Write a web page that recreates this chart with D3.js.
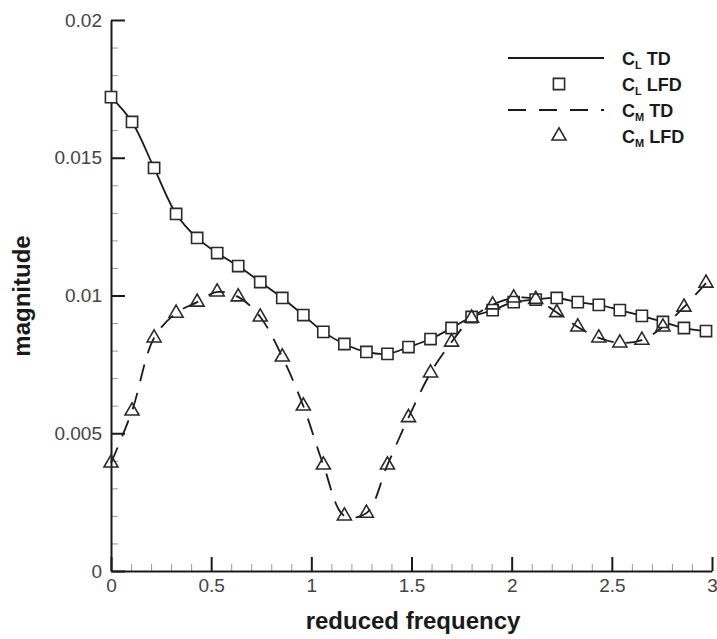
<!DOCTYPE html>
<html>
<head>
<meta charset="utf-8">
<script src="https://cdn.jsdelivr.net/npm/d3@7"></script>
<style>
  body { margin: 0; background: #fff; }
  svg { display: block; font-family: "Liberation Sans", Arial, Helvetica, sans-serif; }
</style>
</head>
<body>
<div id="chart"></div>
<script>
// values
var freq = [0, 0.105, 0.215, 0.325, 0.43, 0.53, 0.635, 0.745, 0.855, 0.96,
            1.06, 1.165, 1.275, 1.38, 1.485, 1.595, 1.7, 1.8, 1.905, 2.01,
            2.12, 2.225, 2.33, 2.435, 2.54, 2.65, 2.755, 2.86, 2.97];

var clTD  = [0.0172, 0.0163, 0.01463, 0.01296, 0.01209, 0.01154, 0.01107, 0.01049, 0.00991, 0.00929,
             0.00868, 0.00824, 0.00795, 0.00788, 0.00813, 0.00842, 0.00882, 0.00922, 0.00947, 0.00976,
             0.00985, 0.00991, 0.00976, 0.00966, 0.00947, 0.00926, 0.00904, 0.00882, 0.00871];
var clLFD = [0.0172, 0.0163, 0.01463, 0.01296, 0.01209, 0.01154, 0.01107, 0.01049, 0.00991, 0.00929,
             0.00868, 0.00824, 0.00795, 0.00788, 0.00813, 0.00842, 0.00882, 0.00922, 0.00947, 0.00976,
             0.00985, 0.00991, 0.00976, 0.00966, 0.00947, 0.00926, 0.00904, 0.00882, 0.00871];
var cmTD  = [0.00392, 0.00581, 0.00846, 0.00936, 0.00976, 0.01013, 0.00995, 0.00922, 0.00777, 0.00599,
             0.00385, 0.0020, 0.0021, 0.00385, 0.00557, 0.00719, 0.00831, 0.00918, 0.00966, 0.00991,
             0.00986, 0.00938, 0.00886, 0.00846, 0.00828, 0.00838, 0.00886, 0.00958, 0.01045];
var cmLFD = [0.00392, 0.00581, 0.00846, 0.00936, 0.00976, 0.01013, 0.00995, 0.00922, 0.00777, 0.00599,
             0.00385, 0.0020, 0.0021, 0.00385, 0.00557, 0.00719, 0.00831, 0.00918, 0.00966, 0.00991,
             0.00986, 0.00938, 0.00886, 0.00846, 0.00828, 0.00838, 0.00886, 0.00958, 0.01045];

var xTicks = [0, 0.5, 1, 1.5, 2, 2.5, 3];
var xTickLabels = ["0", "0.5", "1", "1.5", "2", "2.5", "3"];
var yTicks = [0, 0.005, 0.01, 0.015, 0.02];
var yTickLabels = ["0", "0.005", "0.01", "0.015", "0.02"];

var legendItems = [
  { sub: "L", name: "TD",  kind: "solid" },
  { sub: "L", name: "LFD", kind: "square" },
  { sub: "M", name: "TD",  kind: "dashed" },
  { sub: "M", name: "LFD", kind: "triangle" }
];

var width = 717, height = 639;
var svg = d3.select("#chart").append("svg")
  .attr("width", width)
  .attr("height", height);

var x = d3.scaleLinear().domain([0, 3]).range([111, 712]);
var y = d3.scaleLinear().domain([0, 0.02]).range([571, 20]);

var ink = "#1a1a1a";

// minor ticks first so the axis lines sit on top
var xMinor = d3.range(0, 3.001, 0.1).filter(function(d) { return Math.abs(d * 2 - Math.round(d * 2)) > 1e-6; });
var yMinor = d3.range(0, 0.02001, 0.001).filter(function(d) { return Math.abs(d * 200 - Math.round(d * 200)) > 1e-6; });

svg.append("g")
  .attr("transform", "translate(0," + y(0) + ")")
  .call(d3.axisBottom(x).tickValues(xMinor).tickFormat("").tickSize(-7).tickSizeOuter(0))
  .call(function(g) { g.select(".domain").remove(); g.selectAll("line").attr("stroke", "#999"); });

svg.append("g")
  .attr("transform", "translate(" + x(0) + ",0)")
  .call(d3.axisLeft(y).tickValues(yMinor).tickFormat("").tickSize(-7).tickSizeOuter(0))
  .call(function(g) { g.select(".domain").remove(); g.selectAll("line").attr("stroke", "#999"); });

// major axes, ticks pointing inward
var xAxis = d3.axisBottom(x)
  .tickValues(xTicks)
  .tickFormat(function(d, i) { return xTickLabels[i]; })
  .tickSize(-14).tickSizeOuter(0).tickPadding(8);

var yAxis = d3.axisLeft(y)
  .tickValues(yTicks)
  .tickFormat(function(d, i) { return yTickLabels[i]; })
  .tickSize(-14).tickSizeOuter(0).tickPadding(9);

svg.append("g")
  .attr("transform", "translate(0," + y(0) + ")")
  .call(xAxis)
  .call(function(g) {
    g.select(".domain").attr("stroke", ink).attr("stroke-width", 2);
    g.selectAll(".tick line").attr("stroke", ink).attr("stroke-width", 2);
    g.selectAll("text").attr("font-size", 19).attr("fill", "#444")
      .attr("font-family", "Liberation Sans, Arial, sans-serif");
  });

svg.append("g")
  .attr("transform", "translate(" + x(0) + ",0)")
  .call(yAxis)
  .call(function(g) {
    g.select(".domain").attr("stroke", ink).attr("stroke-width", 2);
    g.selectAll(".tick line").attr("stroke", ink).attr("stroke-width", 2);
    g.selectAll("text").attr("font-size", 19).attr("fill", "#444")
      .attr("font-family", "Liberation Sans, Arial, sans-serif");
  });

// axis titles
svg.append("text")
  .attr("x", 413).attr("y", 629)
  .attr("text-anchor", "middle")
  .attr("font-size", 24).attr("font-weight", "bold").attr("fill", ink)
  .text("reduced frequency");

svg.append("text")
  .attr("transform", "translate(30,296) rotate(-90)")
  .attr("text-anchor", "middle")
  .attr("font-size", 24).attr("font-weight", "bold").attr("fill", ink)
  .text("magnitude");

// curves
var line = d3.line()
  .x(function(d, i) { return x(freq[i]); })
  .y(function(d) { return y(d); })
  .curve(d3.curveCatmullRom.alpha(0.5));

svg.append("path")
  .datum(clTD)
  .attr("d", line)
  .attr("fill", "none")
  .attr("stroke", ink)
  .attr("stroke-width", 1.8);

svg.append("path")
  .datum(cmTD)
  .attr("d", line)
  .attr("fill", "none")
  .attr("stroke", ink)
  .attr("stroke-width", 1.8)
  .attr("stroke-dasharray", "17,12");

// markers
var squareSym = d3.symbol().type(d3.symbolSquare).size(125);
var triSym = d3.symbol().type(d3.symbolTriangle).size(85);

svg.append("g").selectAll("path")
  .data(clLFD)
  .enter()
  .append("path")
    .attr("d", squareSym)
    .attr("transform", function(d, i) { return "translate(" + x(freq[i]) + "," + y(d) + ")"; })
    .attr("fill", "#fff")
    .attr("stroke", "#2a2a2a")
    .attr("stroke-width", 1.6);

svg.append("g").selectAll("path")
  .data(cmLFD)
  .enter()
  .append("path")
    .attr("d", triSym)
    .attr("transform", function(d, i) { return "translate(" + x(freq[i]) + "," + y(d) + ")"; })
    .attr("fill", "none")
    .attr("stroke", "#2a2a2a")
    .attr("stroke-width", 1.6);

// legend
var legend = svg.append("g");
legendItems.forEach(function(item, i) {
  var cy = 58 + i * 26;
  if (item.kind === "solid" || item.kind === "dashed") {
    legend.append("line")
      .attr("x1", 508).attr("x2", 604)
      .attr("y1", cy).attr("y2", cy)
      .attr("stroke", ink).attr("stroke-width", 2)
      .attr("stroke-dasharray", item.kind === "dashed" ? "18,13" : null);
  } else {
    legend.append("path")
      .attr("d", item.kind === "square" ? squareSym : triSym)
      .attr("transform", "translate(559," + cy + ")")
      .attr("fill", item.kind === "square" ? "#fff" : "none")
      .attr("stroke", "#2a2a2a").attr("stroke-width", 1.6);
  }
  var t = legend.append("text")
    .attr("x", 622).attr("y", cy + 7)
    .attr("font-size", 18).attr("font-weight", "bold").attr("fill", ink);
  t.append("tspan").text("C");
  t.append("tspan").attr("dy", 4).attr("font-size", 11).text(item.sub);
  t.append("tspan").attr("dy", -4).text(" " + item.name);
});
</script>
</body>
</html>
